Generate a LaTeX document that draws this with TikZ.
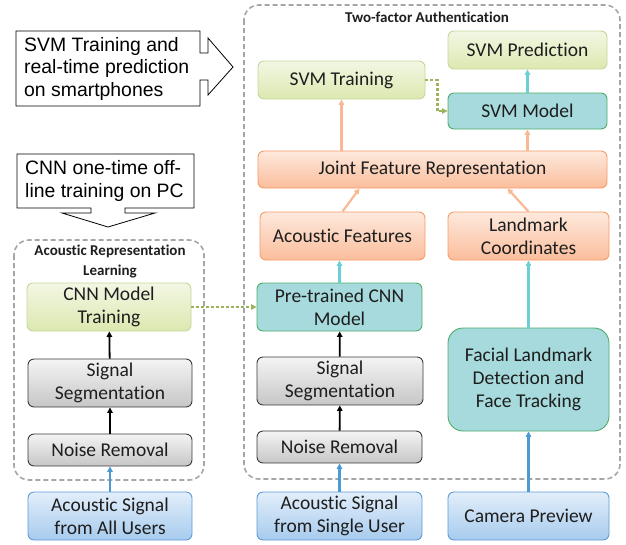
\documentclass[tikz,border=0pt]{standalone}
\usepackage{fontspec}
\setmainfont{Carlito}[Ligatures=NoCommon]
\newfontfamily\notefont{Liberation Sans}
\usetikzlibrary{arrows.meta}

\definecolor{grnT}{HTML}{F3F7E4}
\definecolor{grnB}{HTML}{DCE8B0}
\definecolor{grnL}{HTML}{C4D79B}
\definecolor{grnD}{HTML}{9BB35A}
\definecolor{tealF}{HTML}{A6DADC}
\definecolor{tealL}{HTML}{4EAC6B}
\definecolor{orgT}{HTML}{FDE9DD}
\definecolor{orgB}{HTML}{FBBD9B}
\definecolor{orgL}{HTML}{F79B66}
\definecolor{orgA}{HTML}{F9B995}
\definecolor{gryT}{HTML}{F4F4F4}
\definecolor{gryB}{HTML}{C6C6C6}
\definecolor{gryL}{HTML}{3A3A3A}
\definecolor{bluT}{HTML}{E2EEFA}
\definecolor{bluB}{HTML}{A7CBEE}
\definecolor{bluL}{HTML}{5B9BD5}
\definecolor{bluA}{HTML}{4A9AD4}
\definecolor{cyaA}{HTML}{6DCFD6}
\definecolor{dashG}{HTML}{A6A6A6}
\definecolor{txt}{HTML}{1E1E1E}

\begin{document}
\begin{tikzpicture}[x=1pt,y=-1pt]
	\tikzset{%
		box/.style={rectangle,rounded corners=6pt,line width=0.9pt,align=center,text=txt,
			font=\fontsize{19.5}{23}\selectfont,inner sep=2pt},
		greenbox/.style={box,draw=grnL,top color=grnT,bottom color=grnB},
		tealbox/.style={box,draw=tealL,fill=tealF},
		orangebox/.style={box,draw=orgL,top color=orgT,bottom color=orgB},
		graybox/.style={box,draw=gryL,top color=gryT,bottom color=gryB},
		bluebox/.style={box,draw=bluL,top color=bluT,bottom color=bluB},
		groupbox/.style={draw=dashG,line width=1.6pt,dash pattern=on 5pt off 3pt,rounded corners=15pt},
		grouptitle/.style={font=\bfseries\fontsize{15}{20}\selectfont,text=txt,align=center},
		arr/.style={-{Triangle[length=5.5pt,width=5.5pt]},line width=2.2pt},
		blackarr/.style={arr,draw=black,line width=1.8pt},
		bluearr/.style={arr,draw=bluA},
		cyanarr/.style={arr,draw=cyaA},
		orangearr/.style={arr,draw=orgA},
		dotarr/.style={arr,draw=grnD,dash pattern=on 2.5pt off 2.5pt,line width=2.2pt},
		note/.style={font=\notefont\fontsize{19.4}{22.5}\selectfont,align=left,inner sep=0pt},
	}

	\useasboundingbox (0,0) rectangle (626,544);

	% groups
	\draw [groupbox] (244,5) rectangle (620,479);
	\draw [groupbox] (14,240) rectangle (204,480);
	\node [grouptitle] (authtitle) at (427,17) {Two-factor Authentication};
	\node [grouptitle] (acoutitle) at (110,262) {Acoustic Representation\\Learning};

	% callouts
	\draw [line width=0.8pt] (16,31) -- (200,31) -- (200,53) -- (208,53) -- (208,38) -- (233,67)
		-- (208,95) -- (208,80) -- (200,80) -- (200,106) -- (16,106) -- cycle;
	\node [note,anchor=west] (svmnote) at (24,68.5) {SVM Training and\\real-time prediction\\on smartphones};
	\draw [line width=0.8pt] (17,154) -- (194,154) -- (194,208) -- (125,208) -- (125,213) -- (155,213)
		-- (108,227) -- (62,213) -- (91,213) -- (91,208) -- (17,208) -- cycle;
	\node [note,anchor=west] (cnnnote) at (25,181) {CNN one-time off-\\line training on PC};

	% left column
	\node [greenbox,minimum width=164pt,minimum height=48pt] (cnntrain) at (109,307) {CNN Model\\Training};
	\node [graybox,minimum width=164pt,minimum height=48pt] (sega) at (110,383) {Signal\\Segmentation};
	\node [graybox,minimum width=164pt,minimum height=32pt] (noisea) at (110,450) {Noise Removal};
	\node [bluebox,minimum width=164pt,minimum height=48pt] (srca) at (110,516) {Acoustic Signal\\from All Users};

	% middle column
	\node [greenbox,minimum width=167pt,minimum height=38pt] (svmtrain) at (341.5,80) {SVM Training};
	\node [orangebox,minimum width=349pt,minimum height=37pt] (joint) at (432.5,169.5) {Joint Feature Representation};
	\node [orangebox,minimum width=165pt,minimum height=48pt] (acfeat) at (342.5,236) {Acoustic Features};
	\node [tealbox,minimum width=165pt,minimum height=48pt] (pretrained) at (339.5,307) {Pre-trained CNN\\Model};
	\node [graybox,minimum width=166pt,minimum height=48pt] (segb) at (340,381) {Signal\\Segmentation};
	\node [graybox,minimum width=165pt,minimum height=32pt] (noiseb) at (339.5,447) {Noise Removal};
	\node [bluebox,minimum width=165pt,minimum height=48pt] (srcb) at (339.5,516) {Acoustic Signal\\from Single User};

	% right column
	\node [greenbox,minimum width=159pt,minimum height=38pt] (svmpred) at (527.5,50) {SVM Prediction};
	\node [tealbox,minimum width=159pt,minimum height=36pt] (svmmodel) at (527.5,111) {SVM Model};
	\node [orangebox,minimum width=161pt,minimum height=48pt] (landmark) at (528.5,236) {Landmark\\Coordinates};
	\node [tealbox,rounded corners=15pt,minimum width=161pt,minimum height=103pt] (facial) at (528.5,379.5) {Facial Landmark\\Detection and\\Face Tracking};
	\node [bluebox,minimum width=161pt,minimum height=48pt] (camera) at (528.5,516) {Camera Preview};

	% connectors
	\draw [bluearr] (srca) -- (noisea);
	\draw [blackarr] (noisea) -- (sega);
	\draw [blackarr] (sega) -- (cnntrain);
	\draw [dotarr] (cnntrain) -- (pretrained);

	\draw [bluearr] (srcb) -- (noiseb);
	\draw [blackarr] (noiseb) -- (segb);
	\draw [blackarr] (segb) -- (pretrained);
	\draw [cyanarr] (pretrained) -- (pretrained |- acfeat.south);
	\draw [orangearr] (acfeat.north) -- ([xshift=17pt]acfeat.north |- joint.south);
	\draw [orangearr] (landmark.north) -- ([xshift=-21pt]landmark.north |- joint.south);

	\draw [bluearr] (camera) -- (facial);
	\draw [cyanarr] (facial) -- (landmark);

	\draw [orangearr] (joint.north -| svmtrain.south) -- (svmtrain.south);
	\draw [orangearr] (joint.north -| svmmodel.south) -- (svmmodel.south);
	\draw [dotarr] (svmtrain.east) -- ++(12,0) |- (svmmodel.west);
	\draw [cyanarr] (svmmodel) -- (svmpred);
\end{tikzpicture}
\end{document}
